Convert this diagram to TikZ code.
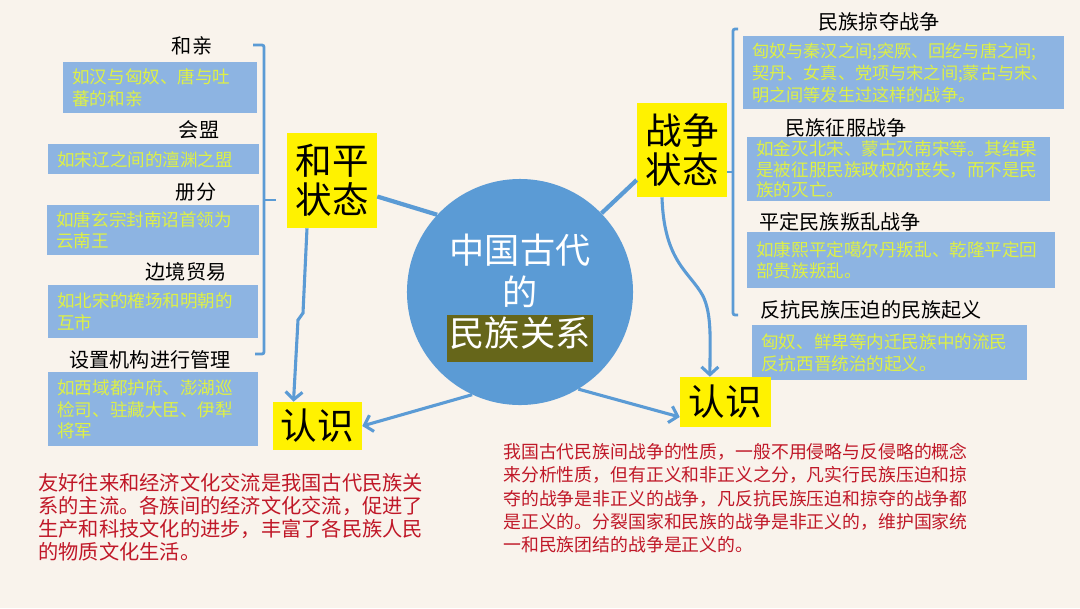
\documentclass[tikz,border=0pt]{standalone}
\usepackage{fontspec}
\setmainfont{Noto Sans CJK SC}
\usetikzlibrary{arrows.meta}

\definecolor{bgbeige}{RGB}{249,243,236}
\definecolor{lineblue}{RGB}{91,155,213}
\definecolor{boxblue}{RGB}{141,180,226}
\definecolor{notegreen}{RGB}{222,240,70}
\definecolor{remarkred}{RGB}{192,24,40}
\definecolor{hubolive}{RGB}{102,102,26}

\begin{document}
\begin{tikzpicture}[x=0.025cm, y=-0.025cm, % one unit = one pixel, y downwards
	topic/.style={font=\fontsize{14.3}{16}\selectfont, inner sep=0pt},
	note/.style={anchor=north west, fill=boxblue, text=notegreen, align=left, inner xsep=0.225cm, inner ysep=0pt, font=\fontsize{12.5}{15.5}\selectfont},
	state/.style={fill=yellow, align=center, inner sep=0pt, font=\fontsize{26}{27.6}\selectfont},
	link/.style={draw=lineblue, line width=3pt},
	arrowlink/.style={draw=lineblue, line width=2.2pt, -{Straight Barb[length=5.5pt, width=12pt]}},
	bracket/.style={draw=lineblue, line width=2pt, rounded corners=1.5pt},
	remark/.style={anchor=north west, text=remarkred, align=left, inner sep=0pt}]

	\fill [bgbeige] (0,0) rectangle (1080,608);

	% peace side
	\node [topic] (heqin) at (192,46) {和亲};
	\node [note, text width=4.4cm, minimum height=1.275cm] (heqinnote) at (63,62) {如汉与匈奴、唐与吐\\蕃的和亲};
	\node [topic] (huimeng) at (199,130) {会盟};
	\node [note, text width=4.825cm, minimum height=0.75cm] (huimengnote) at (48,144) {如宋辽之间的澶渊之盟};
	\node [topic] (cefen) at (196,192) {册分};
	\node [note, text width=4.85cm, minimum height=1.25cm] (cefennote) at (47,205) {如唐玄宗封南诏首领为\\云南王};
	\node [topic] (maoyi) at (186,272) {边境贸易};
	\node [note, text width=4.8cm, minimum height=1.325cm] (maoyinote) at (48,285) {如北宋的榷场和明朝的\\互市};
	\node [topic] (jigou) at (150,360) {设置机构进行管理};
	\node [note, text width=4.8cm, minimum height=1.85cm] (jigounote) at (48,372) {如西域都护府、澎湖巡\\检司、驻藏大臣、伊犁\\将军};

	\draw [bracket] (253,45) -- (264,45) -- (264,354) -- (255,354);
	\draw [bracket] (264,200) -- (276,200);

	\node [state, minimum width=2.25cm, minimum height=2.375cm] (peace) at (332,180.5) {和平\\状态};

	% war side
	\node [topic] (lveduo) at (879,22) {民族掠夺战争};
	\node [note, text width=7.575cm, minimum height=1.825cm, font=\fontsize{12.2}{15.8}\selectfont] (lveduonote) at (743,36) {匈奴与秦汉之间;突厥、回纥与唐之间;\\契丹、女真、党项与宋之间;蒙古与宋、\\明之间等发生过这样的战争。};
	\node [topic] (zhengfu) at (846,128) {民族征服战争};
	\node [note, text width=7.125cm, minimum height=1.6cm, font=\fontsize{12.5}{14.5}\selectfont] (zhengfunote) at (747,137) {如金灭北宋、蒙古灭南宋等。其结果\\是被征服民族政权的丧失，而不是民\\族的灭亡。};
	\node [topic] (pingding) at (840,222) {平定民族叛乱战争};
	\node [note, text width=7.25cm, minimum height=1.4cm] (pingdingnote) at (747,232) {如康熙平定噶尔丹叛乱、乾隆平定回\\部贵族叛乱。};
	\node [topic] (qiyi) at (871,310) {反抗民族压迫的民族起义};
	\node [note, text width=6.425cm, minimum height=1.375cm] (qiyinote) at (752,325) {匈奴、鲜卑等内迁民族中的流民\\反抗西晋统治的起义。};

	\draw [bracket] (738,29) -- (733,29) -- (733,315) -- (738,315);
	\draw [bracket] (733,172) -- (727,172);

	\node [state, minimum width=2.25cm, minimum height=2.35cm] (war) at (682,150) {战争\\状态};

	% centre
	\node [circle, fill=lineblue, minimum size=5.65cm, inner sep=0pt] (hub) at (520,292) {};
	\node [text=white, align=center, inner sep=0pt, font=\fontsize{25}{29.8}\selectfont] (hubtext) at (520,298) {中国古代\\的\\{\setlength\fboxsep{2pt}\colorbox{hubolive}{\strut 民族关系}}};

	\node [state, minimum width=2.225cm, minimum height=1.2cm] (knowpeace) at (317.5,426) {认识};
	\node [state, minimum width=2.275cm, minimum height=1.25cm] (knowwar) at (725.5,402) {认识};

	\draw [link] ([yshift=-0.4cm]peace.east) -- (hub.137);
	\draw [link] (hub.44) -- ([yshift=-0.75cm]war.west);
	\draw [arrowlink] (hub.245) -- (knowpeace.east);
	\draw [arrowlink] (hub.301) -- ([yshift=-0.375cm]knowwar.west);
	\draw [arrowlink] ([xshift=-0.625cm]peace.south) -- (303,313) -- (298,320) -- ([xshift=-0.6cm]knowpeace.north);
	\draw [arrowlink] ([xshift=-0.5cm]war.south) .. controls (664,262) and (690,272) .. (703,296) .. controls (712,315) and (710,340) .. ([xshift=-0.39cm]knowwar.north);

	% remarks
	\node [remark, font=\fontsize{14.4}{16.4}\selectfont] (peaceremark) at (38,473) {友好往来和经济文化交流是我国古代民族关\\系的主流。各族间的经济文化交流，促进了\\生产和科技文化的进步，丰富了各民族人民\\的物质文化生活。};
	\node [remark, font=\fontsize{12.7}{16.5}\selectfont] (warremark) at (503,443) {我国古代民族间战争的性质，一般不用侵略与反侵略的概念\\来分析性质，但有正义和非正义之分，凡实行民族压迫和掠\\夺的战争是非正义的战争，凡反抗民族压迫和掠夺的战争都\\是正义的。分裂国家和民族的战争是非正义的，维护国家统\\一和民族团结的战争是正义的。};

\end{tikzpicture}
\end{document}
